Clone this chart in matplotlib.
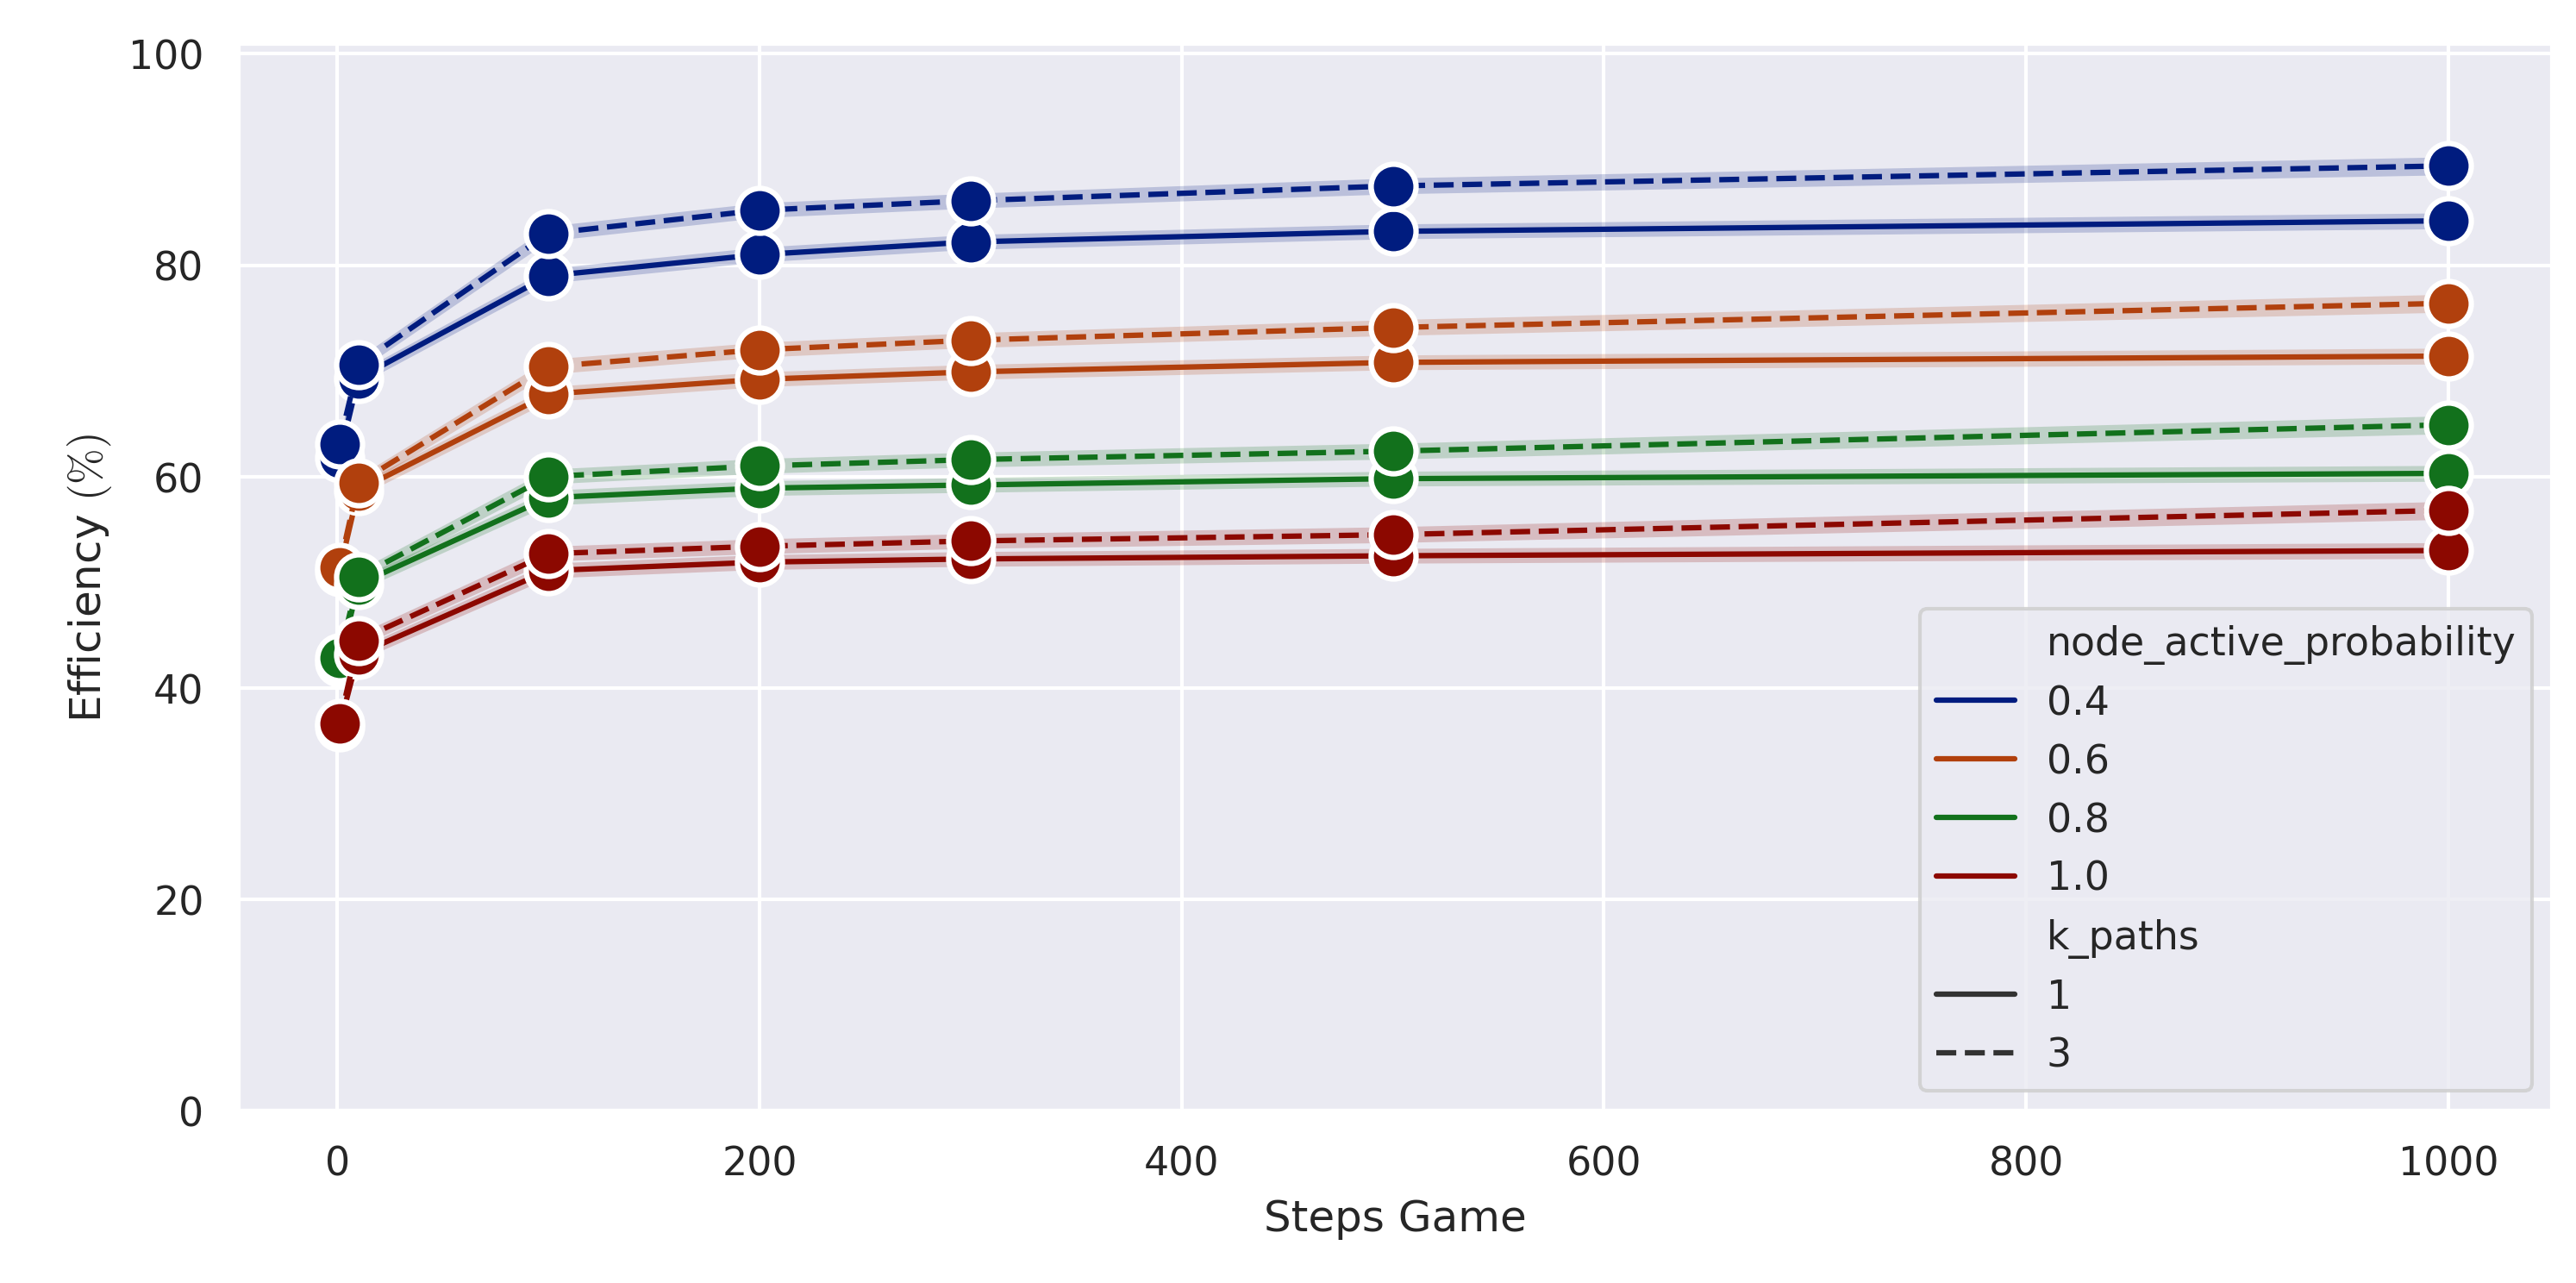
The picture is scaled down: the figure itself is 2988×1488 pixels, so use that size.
import matplotlib
matplotlib.use("Agg")
import matplotlib.pyplot as plt
from matplotlib.lines import Line2D
import seaborn as sns
import numpy as np

# steps of the game
steps = [1, 10, 100, 200, 300, 500, 1000]

# mean efficiency (%) per node_active_probability, k_paths = 1 (solid)
eff_k1 = {
    0.4: [61.8, 69.3, 79.0, 81.0, 82.2, 83.2, 84.2],
    0.6: [51.0, 58.7, 67.8, 69.2, 69.9, 70.8, 71.4],
    0.8: [42.4, 49.8, 58.0, 58.9, 59.2, 59.8, 60.3],
    1.0: [36.3, 43.2, 51.1, 51.9, 52.2, 52.5, 53.0],
}
# k_paths = 3 (dashed)
eff_k3 = {
    0.4: [63.1, 70.6, 83.0, 85.2, 86.1, 87.5, 89.4],
    0.6: [51.4, 59.4, 70.4, 72.0, 72.9, 74.1, 76.4],
    0.8: [42.8, 50.5, 60.0, 61.0, 61.6, 62.4, 64.9],
    1.0: [36.6, 44.5, 52.7, 53.4, 53.9, 54.5, 56.8],
}
# half width of the confidence band
ci_k1 = {
    0.4: [0.5, 0.6, 0.7, 0.7, 0.7, 0.7, 0.75],
    0.6: [0.5, 0.6, 0.7, 0.7, 0.7, 0.7, 0.75],
    0.8: [0.5, 0.6, 0.7, 0.7, 0.7, 0.7, 0.75],
    1.0: [0.5, 0.6, 0.7, 0.7, 0.7, 0.7, 0.75],
}
ci_k3 = {
    0.4: [0.5, 0.6, 0.7, 0.7, 0.7, 0.75, 0.85],
    0.6: [0.5, 0.6, 0.7, 0.7, 0.7, 0.75, 0.85],
    0.8: [0.5, 0.6, 0.7, 0.7, 0.7, 0.75, 0.85],
    1.0: [0.5, 0.6, 0.7, 0.7, 0.7, 0.75, 0.85],
}

probs = [0.4, 0.6, 0.8, 1.0]
k_paths = [1, 3]

sns.set_theme(style="darkgrid")
plt.rcParams["mathtext.fontset"] = "cm"
colors = sns.color_palette("dark", 4)

fig = plt.figure(figsize=(9.96, 4.963), dpi=300)
ax = fig.add_axes([0.0924, 0.1343, 0.9906 - 0.0924, 0.9657 - 0.1343])

for i, p in enumerate(probs):
    for k, data, ls in [(1, eff_k1, "-"), (3, eff_k3, "--")]:
        y = np.array(data[p])
        err = np.array((ci_k1 if k == 1 else ci_k3)[p])
        ax.plot(steps, y, color=colors[i], linestyle=ls, lw=1.5,
                marker="o", markersize=12.5, markeredgecolor="white",
                markeredgewidth=1.5)
        ax.fill_between(steps, y - err, y + err, color=colors[i],
                        alpha=0.2, linewidth=0)

ax.set_ylim(0, 101)
ax.set_xlim(-47, 1049)
ax.set_xlabel("Steps Game")
ax.set_ylabel(r"Efficiency $(\%)$")

handles = [Line2D([], [], color="none")]
labels = ["node_active_probability"]
for i, p in enumerate(probs):
    handles.append(Line2D([], [], color=colors[i], lw=1.5))
    labels.append(str(p))
handles.append(Line2D([], [], color="none"))
labels.append("k_paths")
for k, ls in zip(k_paths, ["-", "--"]):
    handles.append(Line2D([], [], color=".2", lw=1.5, linestyle=ls))
    labels.append(str(k))
ax.legend(handles, labels, loc="lower right")

fig.savefig("out.png", dpi=300)
